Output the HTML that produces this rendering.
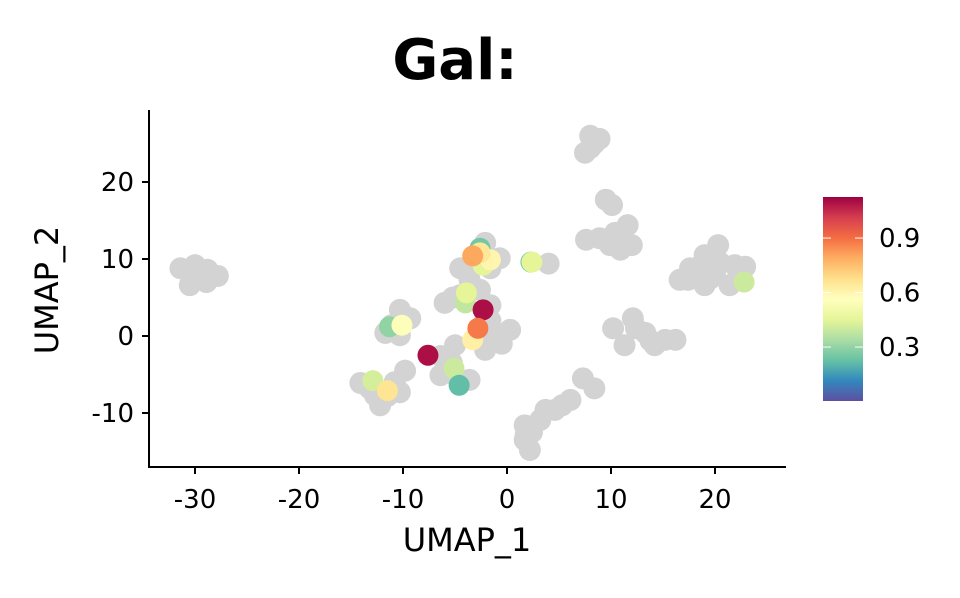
<!DOCTYPE html>
<html><head><meta charset="utf-8"><style>
html,body{margin:0;padding:0;background:#fff;}
svg text{font-family:"DejaVu Sans","Liberation Sans",sans-serif;}
</style></head><body>
<svg id="chart" width="960" height="593" viewBox="0 0 960 593" xmlns="http://www.w3.org/2000/svg">
<defs>
<linearGradient id="spec" x1="0" y1="1" x2="0" y2="0">
<stop offset="0" stop-color="#5E4FA2"/><stop offset="0.1" stop-color="#3288BD"/><stop offset="0.2" stop-color="#66C2A5"/><stop offset="0.3" stop-color="#ABDDA4"/><stop offset="0.4" stop-color="#E6F598"/><stop offset="0.5" stop-color="#FFFFBF"/><stop offset="0.6" stop-color="#FEE08B"/><stop offset="0.7" stop-color="#FDAE61"/><stop offset="0.8" stop-color="#F46D43"/><stop offset="0.9" stop-color="#D53E4F"/><stop offset="1" stop-color="#9E0142"/>
</linearGradient>
</defs>
<text x="455" y="79" font-size="56" font-weight="bold" text-anchor="middle">Gal:</text>
<g id="points"></g>
<line x1="149" y1="110" x2="149" y2="468" stroke="#000" stroke-width="2"/>
<line x1="148" y1="467" x2="786" y2="467" stroke="#000" stroke-width="2"/>
<g id="axes"></g>
<text x="467" y="551" font-size="32" text-anchor="middle">UMAP_1</text>
<text transform="translate(58,290) rotate(-90)" font-size="32" text-anchor="middle">UMAP_2</text>
<rect x="823" y="197" width="40" height="204" fill="url(#spec)"/>
<g id="cbticks"></g>
</svg>
<script>
const grayX=[-31.4,-30,-28.8,-27.8,-30.5,-28.9,-29.6,-10.3,-9.3,-11.7,-10.3,-11.1,-10.6,-14.1,-12.7,-10.8,-9.8,-12.2,-10.3,-11.5,-13.2,-6.4,-5,-5,-3.6,-6.4,-5.3,-4.5,-3.1,-1.6,-1.6,-3.6,-2.1,-0.7,-2.6,-6,-4.5,-2.6,-5.2,-2.1,-1.6,-1.2,-2.1,-1.2,0.3,-2.1,-0.5,-1.6,4,8,8.9,7.5,8,8.4,9.5,10.1,7.6,8.9,10.4,11.6,12,9.9,10.9,10.6,17.6,19,20.3,21.9,22.9,17.4,19,21.4,16.6,18.5,20.5,20,19.6,10.2,12.1,13.3,15.2,16.2,11.3,14.2,12.4,13.8,7.3,8.4,6.1,4.6,3.2,1.7,1.7,2.2,3.7,5.3,2.4,1.8];
const grayY=[8.8,9.2,8.6,7.8,6.6,7,8,3.4,2.3,0.4,0.1,1.4,1.5,-6.1,-7.7,-6,-4.5,-9,-7.3,-7.8,-6.8,-2.6,-1.2,-5.1,-5.7,-5.1,-3.5,8.8,10.1,10.1,8.8,7.3,12.1,10.1,9.3,4.3,5.3,6,5,2.1,4,-0.5,-1.8,0.1,0.8,0.1,-1,2,9.4,26,25.6,23.8,24.4,25,17.7,17,12.5,12.7,13.4,14.4,11.8,11.8,11.2,12.6,8.8,10.5,11.8,9.2,9,7.3,6.6,6.6,7.3,9,9.5,8,7.5,1,2.3,0.4,-0.5,-0.5,-1.2,-1.2,1,-0.6,-5.5,-6.8,-8.3,-9.6,-10.9,-11.6,-13.5,-14.8,-9.6,-9,-12.5,-12.8];
const exprX=[-2.6,-2.3,-1.6,-2.6,-3.3,2.3,2.4,-4,-3.9,-2.3,-3.3,-2.8,-7.6,-11.3,-10.1,-5.1,-4.6,-12.9,-11.5,22.8];
const exprY=[11.4,9.2,9.9,10.8,10.4,9.6,9.6,4.3,5.6,3.4,-0.5,1,-2.5,1.2,1.4,-4.2,-6.4,-5.8,-7.1,7];
const exprV=[0.25,0.45,0.6,0.65,0.8,0.25,0.45,0.38,0.45,1.1,0.62,0.88,1.1,0.3,0.55,0.4,0.22,0.42,0.66,0.4];
const xTicks=[-30,-20,-10,0,10,20];
const yTicks=[-10,0,10,20];
const cbTicks=[0.3,0.6,0.9];
const sx=v=>507+v*10.4, sy=v=>336-v*7.7;
const vmin=0.003,vmax=1.126;
const cy=v=>401-(v-vmin)/(vmax-vmin)*204;
const stops=["#5E4FA2","#3288BD","#66C2A5","#ABDDA4","#E6F598","#FFFFBF","#FEE08B","#FDAE61","#F46D43","#D53E4F","#9E0142"];
function col(v){let t=Math.max(0,Math.min(1,(v-vmin)/(vmax-vmin)))*10;let i=Math.min(9,Math.floor(t)),f=t-i;
const h=s=>[1,3,5].map(k=>parseInt(s.substr(k,2),16));const a=h(stops[i]),b=h(stops[i+1]);
return "rgb("+a.map((c,k)=>Math.round(c+(b[k]-c)*f)).join(",")+")";}
const NS="http://www.w3.org/2000/svg";
const P=document.getElementById("points"),A=document.getElementById("axes"),C=document.getElementById("cbticks");
function mk(tag,at,par){const e=document.createElementNS(NS,tag);for(const k in at)e.setAttribute(k,at[k]);par.appendChild(e);return e;}
grayX.forEach((x,i)=>{const c=mk("circle",{cx:sx(x),cy:sy(grayY[i]),r:11,fill:"#D3D3D3"},P);

});
exprX.forEach((x,i)=>{const c=mk("circle",{cx:sx(x),cy:sy(exprY[i]),r:10.5,fill:col(exprV[i])},P);

});
xTicks.forEach(t=>{const l=mk("line",{x1:sx(t),x2:sx(t),y1:467,y2:474,stroke:"#000","stroke-width":2},A);


const tx=mk("text",{x:sx(t),y:508,"font-size":26,"text-anchor":"middle"},A);tx.textContent=t;

});
yTicks.forEach(t=>{const l=mk("line",{x1:142,x2:149,y1:sy(t),y2:sy(t),stroke:"#000","stroke-width":2},A);


const tx=mk("text",{x:134,y:sy(t)+9,"font-size":26,"text-anchor":"end"},A);tx.textContent=t;

});
cbTicks.forEach(t=>{const y=cy(t);
const l1=mk("line",{x1:823,x2:831,y1:y,y2:y,stroke:"#fff","stroke-width":1.2,opacity:0.8},C);


const l2=mk("line",{x1:855,x2:863,y1:y,y2:y,stroke:"#fff","stroke-width":1.2,opacity:0.8},C);


const tx=mk("text",{x:879,y:y+9,"font-size":26},C);tx.textContent=t.toFixed(1);

});
</script>
</body></html>
